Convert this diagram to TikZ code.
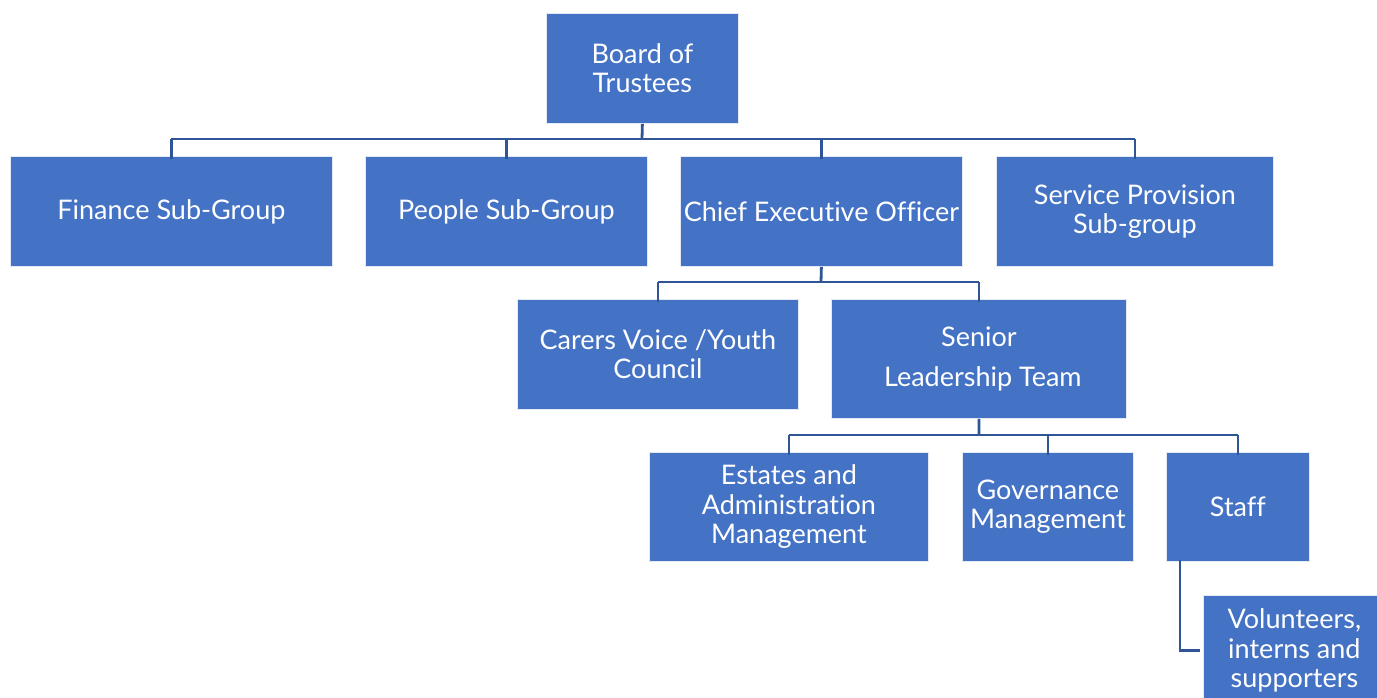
\documentclass[tikz,border=0pt]{standalone}
\usepackage{fontspec}
\setmainfont{Lato}[Ligatures=NoCommon]
\usetikzlibrary{calc}
\definecolor{boxblue}{HTML}{4472C4}
\definecolor{lineblue}{HTML}{2F5597}
\begin{document}
\begin{tikzpicture}[x=1pt,y=-1pt,
  orgbox/.style={fill=boxblue, draw=white!85!boxblue, line width=0.8pt,
    text=white, anchor=north west, inner sep=0pt, align=center,
    font=\fontsize{27}{29.5}\selectfont},
  link/.style={draw=lineblue, line width=2.8pt}]
\useasboundingbox (0,0) rectangle (1377,697);
\clip (0,0) rectangle (1377,697);
\fill[white] (0,0) rectangle (1377,697);

% bus heights between the levels
\coordinate (bA) at (642,139);
\coordinate (bB) at (821,282);
\coordinate (bC) at (979,435);

% top
\node[orgbox, minimum width=192pt, minimum height=110pt] (board) at (546,13) {Board of\\Trustees};

% first level
\node[orgbox, minimum width=322pt, minimum height=110pt] (fin) at (10,156) {Finance Sub-Group};
\node[orgbox, minimum width=282pt, minimum height=110pt] (ppl) at (365,156) {People Sub-Group};
\node[orgbox, minimum width=282pt, minimum height=110pt] (ceo) at (680,156) {Chief Executive Officer};
\node[orgbox, minimum width=277pt, minimum height=110pt] (svc) at (996,156) {Service Provision\\Sub-group};

% second level
\node[orgbox, minimum width=281pt, minimum height=110pt] (carers) at (517,299) {Carers Voice /Youth\\Council};
\node[orgbox, minimum width=295pt, minimum height=119pt] (slt) at (831,299) {Senior\\[11pt]\hspace*{8pt}Leadership Team};

% third level
\node[orgbox, minimum width=279pt, minimum height=109pt] (est) at (649,452) {Estates and\\Administration\\Management};
\node[orgbox, minimum width=171pt, minimum height=109pt] (gov) at (962,452) {Governance\\Management};
\node[orgbox, minimum width=143pt, minimum height=109pt] (staff) at (1166,452) {Staff};

% volunteers
\node[orgbox, minimum width=182pt, minimum height=110pt] (vol) at (1203,595) {Volunteers,\\interns and\\supporters};

% board to first level
\draw[link] (board.south) -- (bA);
\draw[link] (bA -| fin.north) -- (bA -| svc.north);
\foreach \n in {fin,ppl,ceo,svc} \draw[link] (bA -| \n.north) -- ([yshift=-3pt]\n.north);

% CEO to second level
\draw[link] (ceo.south) -- (bB);
\draw[link] (bB -| carers.north) -- (bB -| slt.north);
\foreach \n in {carers,slt} \draw[link] (bB -| \n.north) -- ([yshift=-3pt]\n.north);

% senior leadership to third level
\draw[link] (slt.south) -- (bC);
\draw[link] (bC -| est.north) -- (bC -| staff.north);
\foreach \n in {est,gov,staff} \draw[link] (bC -| \n.north) -- ([yshift=-3pt]\n.north);

% staff to volunteers
\draw[link] ([xshift=14pt,yshift=2pt]staff.south west) |- ([xshift=-3pt]vol.west);
\end{tikzpicture}
\end{document}
